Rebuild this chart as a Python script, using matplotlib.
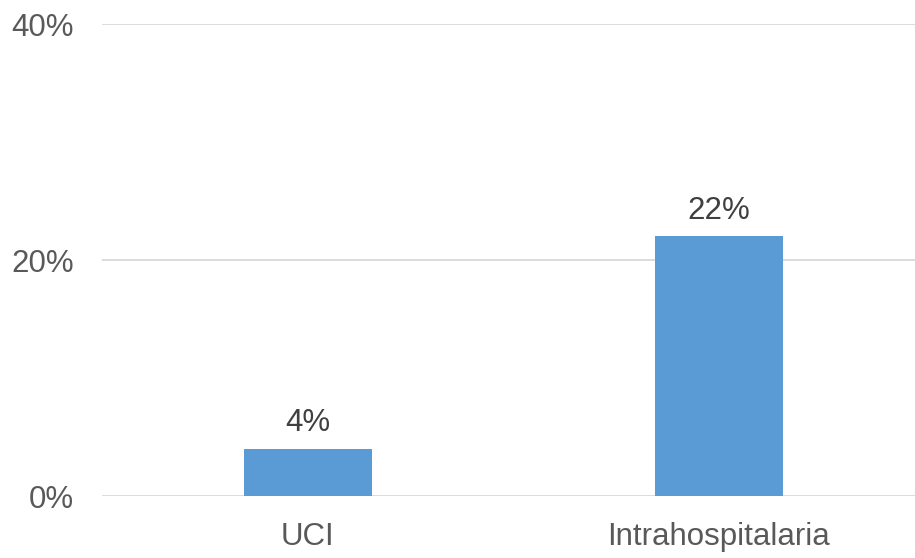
import matplotlib
matplotlib.use("Agg")
import matplotlib.pyplot as plt
from matplotlib.ticker import FuncFormatter

categories = ["UCI", "Intrahospitalaria"]
values = [4, 22]
yticks = [0, 20, 40]

plt.rcParams['font.family'] = ['Liberation Sans', 'DejaVu Sans']

fig = plt.figure(figsize=(9.15, 5.58), dpi=100)
ax = fig.add_axes([102/915, 62/558, 813/915, 472/558])

x = list(range(len(categories)))
bars = ax.bar(x, values, width=0.312, color="#5B9BD5", zorder=3)
for xi, v in zip(x, values):
    ax.annotate(f"{v}%", (xi, v), xytext=(0, 7.5), textcoords="offset points",
                ha="center", va="bottom", fontsize=22.5, color="#404040")

ax.set_ylim(0, 40)
ax.set_xlim(-0.501, 1.477)
ax.set_yticks(yticks)
ax.yaxis.set_major_formatter(FuncFormatter(lambda v, p: f"{int(v)}%"))
ax.set_xticks(x)
ax.set_xticklabels(categories)
ax.grid(axis="y", color="#D9D9D9", linewidth=1.3, zorder=0)
for s in ax.spines.values():
    s.set_visible(False)
ax.tick_params(axis="both", length=0, labelsize=22.5, colors="#595959")
ax.tick_params(axis="y", pad=20)
ax.tick_params(axis="x", pad=19)

fig.savefig("out.png", dpi=100)
